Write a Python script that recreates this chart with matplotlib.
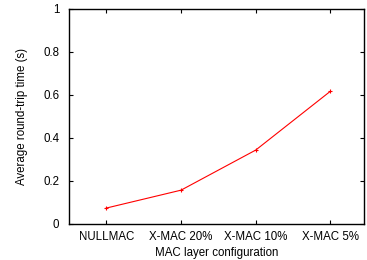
import matplotlib
matplotlib.use("Agg")
import matplotlib.pyplot as plt

categories = ["NULLMAC", "X-MAC 20%", "X-MAC 10%", "X-MAC 5%"]
rtt = [0.074, 0.157, 0.343, 0.616]
yticks = [0, 0.2, 0.4, 0.6, 0.8, 1]
ytick_labels = ["0", "0.2", "0.4", "0.6", "0.8", "1"]

plt.rcParams['font.family'] = ['Liberation Sans', 'DejaVu Sans']
fig = plt.figure(figsize=(3.67, 2.6), dpi=100)
ax = fig.add_axes([69/367, 1-224/260, (364-69)/367, (224-8.5)/260])

x = list(range(len(categories)))
ax.plot(x, rtt, color='#ff0000', lw=0.8, marker='+', ms=2.5, mew=0.8)
ax.set_xlim(-0.5, 3.45)
ax.set_ylim(0, 1)
ax.set_xticks(x)
ax.set_xticklabels(categories, fontsize=8.3)
ax.set_yticks(yticks)
ax.set_yticklabels(ytick_labels, fontsize=8.3)
ax.tick_params(direction='in', length=3, width=0.8, top=True, right=True)
ax.tick_params(axis='y', pad=7)
ax.tick_params(axis='x', pad=5)
for s in ax.spines.values():
    s.set_linewidth(1.0)
ax.set_xlabel("MAC layer configuration", fontsize=8.3, labelpad=3)
ax.set_ylabel("Average round-trip time (s)", fontsize=8.3, labelpad=11)
fig.savefig("out.png", dpi=100)
